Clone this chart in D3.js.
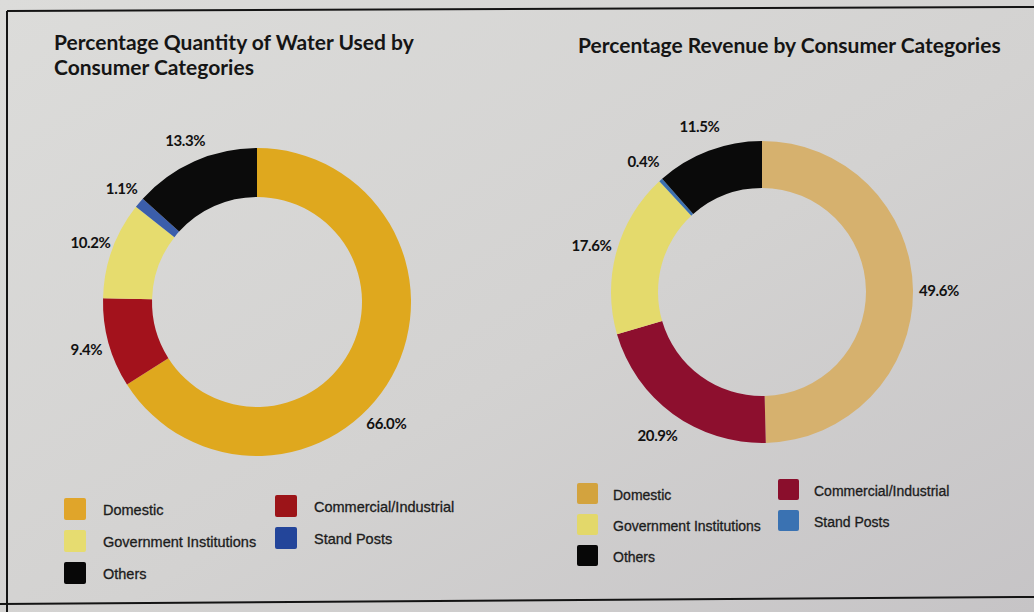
<!DOCTYPE html>
<html>
<head>
<meta charset="utf-8">
<script src="https://cdn.jsdelivr.net/npm/d3@7/dist/d3.min.js"></script>
<style>
  html, body { margin: 0; padding: 0; background: #d6d6d4; }
  svg { display: block; }
</style>
</head>
<body>
<svg id="chart" width="1034" height="612"></svg>
<script>
// ---------- data ----------
const categories = ["Domestic", "Commercial/Industrial", "Government Institutions", "Stand Posts", "Others"];
const waterValues = [66.0, 9.4, 10.2, 1.1, 13.3];
const revenueValues = [49.6, 20.9, 17.6, 0.4, 11.5];
const waterLabels = ["66.0%", "9.4%", "10.2%", "1.1%", "13.3%"];
const revenueLabels = ["49.6%", "20.9%", "17.6%", "0.4%", "11.5%"];
const waterTitle = ["Percentage Quantity of Water Used by", "Consumer Categories"];
const revenueTitle = ["Percentage Revenue by Consumer Categories"];
const legendOrder = ["Domestic", "Commercial/Industrial", "Government Institutions", "Stand Posts", "Others"];

// ---------- styles ----------
const waterColors = ["#dfa81e", "#a3121c", "#e6dc6e", "#3b5eab", "#0b0b0b"];
const revenueColors = ["#d6b16e", "#8d0f2e", "#e4da6c", "#3b70b0", "#0a0a0a"];
const waterLegendColors = ["#e0a52a", "#9c1418", "#e6dc70", "#23459a", "#070707"];
const revenueLegendColors = ["#d3a33e", "#8a0e2c", "#e3d86a", "#3a72b2", "#070707"];

const svg = d3.select("#chart");

// background (photo of printed page)
const defs = svg.append("defs");
const bg = defs.append("linearGradient").attr("id", "bg")
  .attr("x1", "0").attr("y1", "0").attr("x2", "1").attr("y2", "1");
bg.append("stop").attr("offset", "0%").attr("stop-color", "#dcdcda");
bg.append("stop").attr("offset", "55%").attr("stop-color", "#d3d2d1");
bg.append("stop").attr("offset", "100%").attr("stop-color", "#c6c4c6");
svg.append("rect").attr("width", 1034).attr("height", 612).attr("fill", "url(#bg)");

// frame lines
svg.append("line").attr("x1", 7).attr("y1", 11).attr("x2", 1034).attr("y2", 7)
  .attr("stroke", "#141414").attr("stroke-width", 2);
svg.append("line").attr("x1", 7).attr("y1", 11).attr("x2", 7).attr("y2", 612)
  .attr("stroke", "#141414").attr("stroke-width", 2);
svg.append("line").attr("x1", 0).attr("y1", 604).attr("x2", 1034).attr("y2", 597)
  .attr("stroke", "#141414").attr("stroke-width", 2);

function drawChart(cfg) {
  const g = svg.append("g");

  // title
  const title = g.append("text")
    .attr("x", cfg.titleX).attr("y", cfg.titleY)
    .attr("font-family", "Lato, 'Open Sans', sans-serif")
    .attr("font-weight", 700)
    .attr("font-size", cfg.titleSize)
    .attr("fill", "#151515");
  cfg.title.forEach((line, i) => {
    title.append("tspan").attr("x", cfg.titleX).attr("dy", i === 0 ? 0 : cfg.titleLH).text(line);
  });

  // donut
  const pie = d3.pie().sort(null).value(d => d.value);
  const arcs = pie(cfg.values.map((v, i) => ({ value: v, cat: categories[i], label: cfg.labels[i], i })));
  const arc = d3.arc().innerRadius(cfg.rInner).outerRadius(cfg.rOuter);
  const color = d3.scaleOrdinal().domain(categories).range(cfg.colors);

  const donut = g.append("g").attr("transform", `translate(${cfg.cx},${cfg.cy})`);
  donut.selectAll("path.slice").data(arcs).join("path")
    .attr("class", "slice")
    .attr("d", arc)
    .attr("fill", d => color(d.data.cat));

  donut.selectAll("text.pct").data(arcs).join("text")
    .attr("class", "pct")
    .attr("transform", d => {
      const f = (cfg.labelFrac && cfg.labelFrac[d.index] != null) ? cfg.labelFrac[d.index] : 0.5;
      const a = d.startAngle + (d.endAngle - d.startAngle) * f;
      const r = cfg.labelR;
      return `translate(${Math.sin(a) * r},${-Math.cos(a) * r})`;
    })
    .attr("text-anchor", "middle")
    .attr("dominant-baseline", "central")
    .attr("font-family", "Lato, 'Open Sans', sans-serif")
    .attr("font-weight", 700)
    .attr("font-size", 15)
    .attr("letter-spacing", -0.4)
    .attr("fill", "#111")
    .text(d => d.data.label);

  // legend
  const lcolor = d3.scaleOrdinal().domain(categories).range(cfg.legendColors);
  const items = legendOrder.map((c, k) => ({ cat: c, col: k % 2, row: Math.floor(k / 2) }));
  const leg = g.append("g").attr("transform", `translate(${cfg.legX},${cfg.legY})`);
  const it = leg.selectAll("g.item").data(items).join("g")
    .attr("class", "item")
    .attr("transform", d => `translate(${d.col * cfg.legColW},${d.row * cfg.legRowH - d.col * cfg.legColLift})`);
  it.append("rect")
    .attr("x", 0).attr("y", 0)
    .attr("width", cfg.sw).attr("height", cfg.sw)
    .attr("rx", 2)
    .attr("fill", d => lcolor(d.cat));
  it.append("text")
    .attr("x", cfg.legTextDX).attr("y", cfg.sw / 2 + 1)
    .attr("dominant-baseline", "central")
    .attr("font-family", "'Liberation Sans', Arial, sans-serif")
    .attr("font-size", cfg.legSize)
    .attr("fill", "#1c1c1c")
    .attr("stroke", "#1c1c1c").attr("stroke-width", 0.3)
    .text(d => d.cat);
}

drawChart({
  title: waterTitle, titleX: 54, titleY: 50, titleSize: 21, titleLH: 25,
  values: waterValues, labels: waterLabels, colors: waterColors, legendColors: waterLegendColors,
  cx: 257, cy: 302, rOuter: 154, rInner: 105, labelR: 177,
  labelFrac: [0.56, 0.5, 0.5, 0.5, 0.5],
  legX: 64, legY: 498, legColW: 211, legRowH: 32, legColLift: 3, sw: 22, legTextDX: 39, legSize: 14.5
});

drawChart({
  title: revenueTitle, titleX: 578, titleY: 53, titleSize: 21, titleLH: 25,
  values: revenueValues, labels: revenueLabels, colors: revenueColors, legendColors: revenueLegendColors,
  cx: 762, cy: 292, rOuter: 151, rInner: 104, labelR: 177,
  labelFrac: null,
  legX: 577, legY: 483, legColW: 201, legRowH: 31, legColLift: 4, sw: 21, legTextDX: 36, legSize: 14
});
</script>
</body>
</html>
